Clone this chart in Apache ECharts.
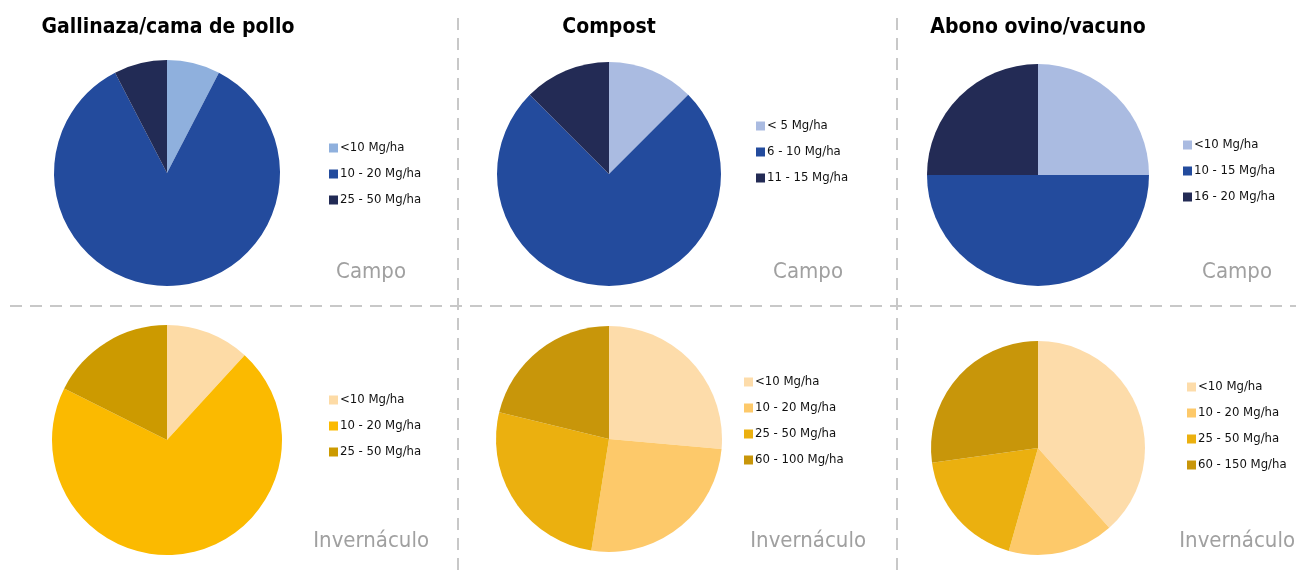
<!DOCTYPE html>
<html>
<head>
<meta charset="utf-8">
<script src="https://cdn.jsdelivr.net/npm/echarts@6/dist/echarts.min.js"></script>
<style>html,body{margin:0;padding:0;background:#fff}#c{width:1296px;height:571px}</style>
</head>
<body>
<div id="c"></div>
<script>
// ---- data ----
const panelTitles = ['Gallinaza/cama de pollo', 'Compost', 'Abono ovino/vacuno'];
const rowLabels = ['Campo', 'Invernáculo'];

const gallinazaCampoCats = ['<10 Mg/ha', '10 - 20 Mg/ha', '25 - 50 Mg/ha'];
const gallinazaCampoVals = [7.6, 84.8, 7.6];
const compostCampoCats = ['< 5 Mg/ha', '6 - 10 Mg/ha', '11 - 15 Mg/ha'];
const compostCampoVals = [12.5, 75, 12.5];
const abonoCampoCats = ['<10 Mg/ha', '10 - 15 Mg/ha', '16 - 20 Mg/ha'];
const abonoCampoVals = [25, 50, 25];

const gallinazaInvCats = ['<10 Mg/ha', '10 - 20 Mg/ha', '25 - 50 Mg/ha'];
const gallinazaInvVals = [11.8, 70.6, 17.6];
const compostInvCats = ['<10 Mg/ha', '10 - 20 Mg/ha', '25 - 50 Mg/ha', '60 - 100 Mg/ha'];
const compostInvVals = [26.4, 26.1, 26.3, 21.2];
const abonoInvCats = ['<10 Mg/ha', '10 - 20 Mg/ha', '25 - 50 Mg/ha', '60 - 150 Mg/ha'];
const abonoInvVals = [38.4, 16.0, 18.4, 27.2];

// ---- styles ----
const FONT = "'Liberation Sans Narrow', 'DejaVu Sans Condensed', 'Arial Narrow', sans-serif";
const blueA = ['#8FB0DD', '#234B9D', '#222B55'];
const blueB = ['#AABBE1', '#234B9D', '#232B55'];
const goldA = ['#FDDBA6', '#FBBA00', '#CC9A00'];
const goldB = ['#FDDCAA', '#FDC96A', '#EBB00F', '#C8960A'];

const pies = [
  {id: 'p1', cats: gallinazaCampoCats, vals: gallinazaCampoVals, colors: blueA, center: [167, 173], r: 113, legend: [324, 136]},
  {id: 'p2', cats: compostCampoCats, vals: compostCampoVals, colors: blueB, center: [609, 174], r: 112, legend: [751, 114]},
  {id: 'p3', cats: abonoCampoCats, vals: abonoCampoVals, colors: blueB, center: [1038, 175], r: 111, legend: [1178, 133]},
  {id: 'p4', cats: gallinazaInvCats, vals: gallinazaInvVals, colors: goldA, center: [167, 440], r: 115, legend: [324, 388]},
  {id: 'p5', cats: compostInvCats, vals: compostInvVals, colors: goldB, center: [609, 439], r: 113, legend: [739, 370]},
  {id: 'p6', cats: abonoInvCats, vals: abonoInvVals, colors: goldB, center: [1038, 448], r: 107, legend: [1182, 375]}
];

const series = pies.map(p => ({
  type: 'pie',
  name: p.id,
  center: p.center,
  radius: p.r,
  startAngle: 90,
  clockwise: true,
  label: {show: false},
  labelLine: {show: false},
  emphasis: {disabled: true},
  itemStyle: {borderWidth: 0},
  data: p.cats.map((c, i) => ({name: p.id + '|' + c, value: p.vals[i], itemStyle: {color: p.colors[i]}}))
}));

const legends = pies.map(p => ({
  orient: 'vertical',
  left: p.legend[0],
  top: p.legend[1],
  itemWidth: 9,
  itemHeight: 9,
  itemGap: 12,
  icon: 'rect',
  selectedMode: false,
  textStyle: {fontFamily: FONT, fontSize: 13, color: '#111', lineHeight: 14, padding: [0, 0, 0, -3]},
  formatter: n => n.split('|')[1],
  data: p.cats.map(c => p.id + '|' + c)
}));

const titleCenters = [168, 609, 1038];
const titles = panelTitles.map((t, i) => ({
  text: t,
  left: titleCenters[i],
  top: 17,
  padding: 0,
  textAlign: 'center',
  textStyle: {fontFamily: FONT, fontSize: 21, fontWeight: 'bold', color: '#000'}
}));
const campoRight = [406, 843, 1272];
const invRight = [429, 866, 1295];
campoRight.forEach(x => titles.push({text: rowLabels[0], left: x, top: 261, textAlign: 'right', padding: 0,
  textStyle: {fontFamily: FONT, fontSize: 22, fontWeight: 'normal', color: '#A0A0A0'}}));
invRight.forEach(x => titles.push({text: rowLabels[1], left: x, top: 530, textAlign: 'right', padding: 0,
  textStyle: {fontFamily: FONT, fontSize: 22, fontWeight: 'normal', color: '#A0A0A0'}}));

const dashStyle = {stroke: '#C8C8C8', lineWidth: 2, lineDash: [12, 8]};
const graphic = [
  {type: 'line', shape: {x1: 10, y1: 306, x2: 1296, y2: 306}, style: dashStyle, silent: true},
  {type: 'line', shape: {x1: 458, y1: 18, x2: 458, y2: 571}, style: dashStyle, silent: true},
  {type: 'line', shape: {x1: 897, y1: 18, x2: 897, y2: 571}, style: dashStyle, silent: true}
];

const chart = echarts.init(document.getElementById('c'));
chart.setOption({
  animation: false,
  backgroundColor: '#fff',
  title: titles,
  legend: legends,
  graphic: graphic,
  series: series
});
</script>
</body>
</html>
